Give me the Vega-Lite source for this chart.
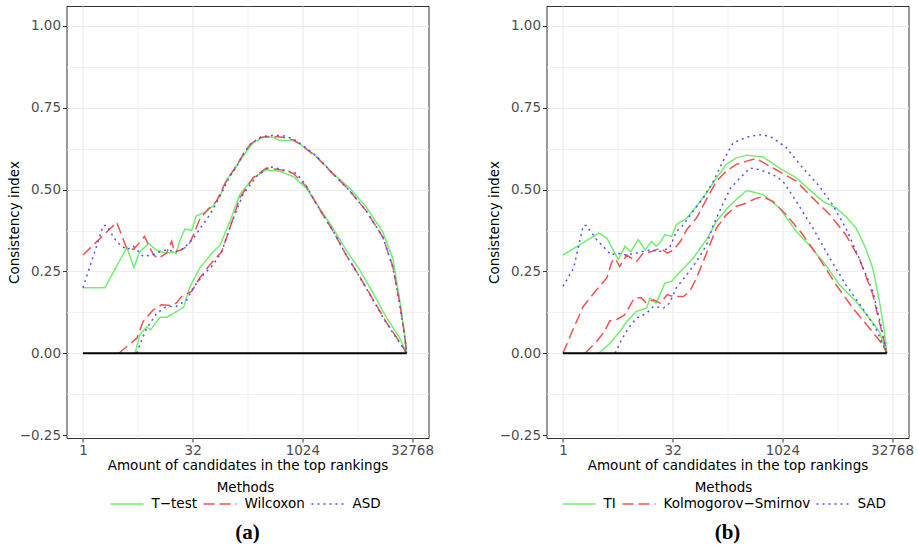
{
  "$schema": "https://vega.github.io/schema/vega-lite/v6.json",
  "background": "white",
  "padding": {"left": 6.5, "top": 5, "right": 3, "bottom": 3},
  "datasets": {
    "curves": [
      {"panel":"a","method":"T−test","curve":"u","x":1,"y":0.20},{"panel":"a","method":"T−test","curve":"u","x":2,"y":0.20},{"panel":"a","method":"T−test","curve":"u","x":4,"y":0.323},{"panel":"a","method":"T−test","curve":"u","x":5,"y":0.262},{"panel":"a","method":"T−test","curve":"u","x":6,"y":0.31},{"panel":"a","method":"T−test","curve":"u","x":8,"y":0.335},{"panel":"a","method":"T−test","curve":"u","x":10,"y":0.316},{"panel":"a","method":"T−test","curve":"u","x":12,"y":0.31},{"panel":"a","method":"T−test","curve":"u","x":14,"y":0.305},{"panel":"a","method":"T−test","curve":"u","x":17,"y":0.31},{"panel":"a","method":"T−test","curve":"u","x":19,"y":0.305},{"panel":"a","method":"T−test","curve":"u","x":21,"y":0.34},{"panel":"a","method":"T−test","curve":"u","x":25,"y":0.38},{"panel":"a","method":"T−test","curve":"u","x":31,"y":0.375},{"panel":"a","method":"T−test","curve":"u","x":36,"y":0.42},{"panel":"a","method":"T−test","curve":"u","x":47,"y":0.43},{"panel":"a","method":"T−test","curve":"u","x":61,"y":0.45},{"panel":"a","method":"T−test","curve":"u","x":76,"y":0.48},{"panel":"a","method":"T−test","curve":"u","x":93,"y":0.53},{"panel":"a","method":"T−test","curve":"u","x":115,"y":0.556},{"panel":"a","method":"T−test","curve":"u","x":142,"y":0.587},{"panel":"a","method":"T−test","curve":"u","x":176,"y":0.617},{"panel":"a","method":"T−test","curve":"u","x":216,"y":0.643},{"panel":"a","method":"T−test","curve":"u","x":297,"y":0.66},{"panel":"a","method":"T−test","curve":"u","x":406,"y":0.66},{"panel":"a","method":"T−test","curve":"u","x":500,"y":0.65},{"panel":"a","method":"T−test","curve":"u","x":764,"y":0.65},{"panel":"a","method":"T−test","curve":"u","x":943,"y":0.64},{"panel":"a","method":"T−test","curve":"u","x":1590,"y":0.602},{"panel":"a","method":"T−test","curve":"u","x":2690,"y":0.55},{"panel":"a","method":"T−test","curve":"u","x":4550,"y":0.505},{"panel":"a","method":"T−test","curve":"u","x":7700,"y":0.447},{"panel":"a","method":"T−test","curve":"u","x":13000,"y":0.37},{"panel":"a","method":"T−test","curve":"u","x":17850,"y":0.29},{"panel":"a","method":"T−test","curve":"u","x":21950,"y":0.17},{"panel":"a","method":"T−test","curve":"u","x":25700,"y":0.065},{"panel":"a","method":"T−test","curve":"u","x":27700,"y":0.0},
      {"panel":"a","method":"T−test","curve":"l","x":5.2,"y":0},{"panel":"a","method":"T−test","curve":"l","x":6,"y":0.056},{"panel":"a","method":"T−test","curve":"l","x":7.5,"y":0.08},{"panel":"a","method":"T−test","curve":"l","x":8.5,"y":0.072},{"panel":"a","method":"T−test","curve":"l","x":11.4,"y":0.11},{"panel":"a","method":"T−test","curve":"l","x":14,"y":0.11},{"panel":"a","method":"T−test","curve":"l","x":17,"y":0.12},{"panel":"a","method":"T−test","curve":"l","x":24,"y":0.14},{"panel":"a","method":"T−test","curve":"l","x":29,"y":0.2},{"panel":"a","method":"T−test","curve":"l","x":40,"y":0.26},{"panel":"a","method":"T−test","curve":"l","x":61,"y":0.31},{"panel":"a","method":"T−test","curve":"l","x":76,"y":0.33},{"panel":"a","method":"T−test","curve":"l","x":103,"y":0.40},{"panel":"a","method":"T−test","curve":"l","x":142,"y":0.485},{"panel":"a","method":"T−test","curve":"l","x":216,"y":0.536},{"panel":"a","method":"T−test","curve":"l","x":328,"y":0.56},{"panel":"a","method":"T−test","curve":"l","x":500,"y":0.556},{"panel":"a","method":"T−test","curve":"l","x":764,"y":0.54},{"panel":"a","method":"T−test","curve":"l","x":1156,"y":0.505},{"panel":"a","method":"T−test","curve":"l","x":1760,"y":0.444},{"panel":"a","method":"T−test","curve":"l","x":2680,"y":0.383},{"panel":"a","method":"T−test","curve":"l","x":4096,"y":0.315},{"panel":"a","method":"T−test","curve":"l","x":6250,"y":0.255},{"panel":"a","method":"T−test","curve":"l","x":9500,"y":0.185},{"panel":"a","method":"T−test","curve":"l","x":14500,"y":0.11},{"panel":"a","method":"T−test","curve":"l","x":22000,"y":0.048},{"panel":"a","method":"T−test","curve":"l","x":27700,"y":0.0},
      {"panel":"a","method":"Wilcoxon","curve":"u","x":1,"y":0.30},{"panel":"a","method":"Wilcoxon","curve":"u","x":2.9,"y":0.40},{"panel":"a","method":"Wilcoxon","curve":"u","x":4,"y":0.32},{"panel":"a","method":"Wilcoxon","curve":"u","x":5,"y":0.318},{"panel":"a","method":"Wilcoxon","curve":"u","x":7,"y":0.357},{"panel":"a","method":"Wilcoxon","curve":"u","x":9.3,"y":0.30},{"panel":"a","method":"Wilcoxon","curve":"u","x":10.8,"y":0.29},{"panel":"a","method":"Wilcoxon","curve":"u","x":14,"y":0.306},{"panel":"a","method":"Wilcoxon","curve":"u","x":16.5,"y":0.342},{"panel":"a","method":"Wilcoxon","curve":"u","x":18,"y":0.31},{"panel":"a","method":"Wilcoxon","curve":"u","x":22.6,"y":0.316},{"panel":"a","method":"Wilcoxon","curve":"u","x":28,"y":0.33},{"panel":"a","method":"Wilcoxon","curve":"u","x":32.6,"y":0.36},{"panel":"a","method":"Wilcoxon","curve":"u","x":40,"y":0.41},{"panel":"a","method":"Wilcoxon","curve":"u","x":52,"y":0.44},{"panel":"a","method":"Wilcoxon","curve":"u","x":68,"y":0.465},{"panel":"a","method":"Wilcoxon","curve":"u","x":85,"y":0.51},{"panel":"a","method":"Wilcoxon","curve":"u","x":105,"y":0.545},{"panel":"a","method":"Wilcoxon","curve":"u","x":130,"y":0.575},{"panel":"a","method":"Wilcoxon","curve":"u","x":160,"y":0.61},{"panel":"a","method":"Wilcoxon","curve":"u","x":200,"y":0.64},{"panel":"a","method":"Wilcoxon","curve":"u","x":280,"y":0.66},{"panel":"a","method":"Wilcoxon","curve":"u","x":400,"y":0.663},{"panel":"a","method":"Wilcoxon","curve":"u","x":550,"y":0.66},{"panel":"a","method":"Wilcoxon","curve":"u","x":764,"y":0.652},{"panel":"a","method":"Wilcoxon","curve":"u","x":943,"y":0.64},{"panel":"a","method":"Wilcoxon","curve":"u","x":1590,"y":0.60},{"panel":"a","method":"Wilcoxon","curve":"u","x":2690,"y":0.548},{"panel":"a","method":"Wilcoxon","curve":"u","x":4550,"y":0.497},{"panel":"a","method":"Wilcoxon","curve":"u","x":7700,"y":0.435},{"panel":"a","method":"Wilcoxon","curve":"u","x":13000,"y":0.355},{"panel":"a","method":"Wilcoxon","curve":"u","x":17850,"y":0.265},{"panel":"a","method":"Wilcoxon","curve":"u","x":21950,"y":0.16},{"panel":"a","method":"Wilcoxon","curve":"u","x":25700,"y":0.06},{"panel":"a","method":"Wilcoxon","curve":"u","x":27700,"y":0.0},
      {"panel":"a","method":"Wilcoxon","curve":"l","x":3.1,"y":0},{"panel":"a","method":"Wilcoxon","curve":"l","x":5.5,"y":0.046},{"panel":"a","method":"Wilcoxon","curve":"l","x":6.7,"y":0.097},{"panel":"a","method":"Wilcoxon","curve":"l","x":9,"y":0.13},{"panel":"a","method":"Wilcoxon","curve":"l","x":12,"y":0.148},{"panel":"a","method":"Wilcoxon","curve":"l","x":15.6,"y":0.146},{"panel":"a","method":"Wilcoxon","curve":"l","x":19,"y":0.153},{"panel":"a","method":"Wilcoxon","curve":"l","x":22.6,"y":0.173},{"panel":"a","method":"Wilcoxon","curve":"l","x":31,"y":0.189},{"panel":"a","method":"Wilcoxon","curve":"l","x":40,"y":0.23},{"panel":"a","method":"Wilcoxon","curve":"l","x":55,"y":0.27},{"panel":"a","method":"Wilcoxon","curve":"l","x":80,"y":0.31},{"panel":"a","method":"Wilcoxon","curve":"l","x":103,"y":0.38},{"panel":"a","method":"Wilcoxon","curve":"l","x":142,"y":0.475},{"panel":"a","method":"Wilcoxon","curve":"l","x":216,"y":0.536},{"panel":"a","method":"Wilcoxon","curve":"l","x":328,"y":0.566},{"panel":"a","method":"Wilcoxon","curve":"l","x":500,"y":0.561},{"panel":"a","method":"Wilcoxon","curve":"l","x":764,"y":0.55},{"panel":"a","method":"Wilcoxon","curve":"l","x":1156,"y":0.51},{"panel":"a","method":"Wilcoxon","curve":"l","x":1760,"y":0.44},{"panel":"a","method":"Wilcoxon","curve":"l","x":2680,"y":0.375},{"panel":"a","method":"Wilcoxon","curve":"l","x":4096,"y":0.3},{"panel":"a","method":"Wilcoxon","curve":"l","x":6250,"y":0.235},{"panel":"a","method":"Wilcoxon","curve":"l","x":9500,"y":0.165},{"panel":"a","method":"Wilcoxon","curve":"l","x":14500,"y":0.095},{"panel":"a","method":"Wilcoxon","curve":"l","x":22000,"y":0.035},{"panel":"a","method":"Wilcoxon","curve":"l","x":27700,"y":0.0},
      {"panel":"a","method":"ASD","curve":"u","x":1,"y":0.20},{"panel":"a","method":"ASD","curve":"u","x":1.9,"y":0.39},{"panel":"a","method":"ASD","curve":"u","x":2.1,"y":0.39},{"panel":"a","method":"ASD","curve":"u","x":2.9,"y":0.34},{"panel":"a","method":"ASD","curve":"u","x":4,"y":0.316},{"panel":"a","method":"ASD","curve":"u","x":4.9,"y":0.327},{"panel":"a","method":"ASD","curve":"u","x":6.7,"y":0.296},{"panel":"a","method":"ASD","curve":"u","x":8.8,"y":0.30},{"panel":"a","method":"ASD","curve":"u","x":11.4,"y":0.31},{"panel":"a","method":"ASD","curve":"u","x":14,"y":0.316},{"panel":"a","method":"ASD","curve":"u","x":19,"y":0.31},{"panel":"a","method":"ASD","curve":"u","x":24,"y":0.32},{"panel":"a","method":"ASD","curve":"u","x":32.6,"y":0.35},{"panel":"a","method":"ASD","curve":"u","x":40,"y":0.38},{"panel":"a","method":"ASD","curve":"u","x":50,"y":0.41},{"panel":"a","method":"ASD","curve":"u","x":61,"y":0.44},{"panel":"a","method":"ASD","curve":"u","x":80,"y":0.49},{"panel":"a","method":"ASD","curve":"u","x":100,"y":0.535},{"panel":"a","method":"ASD","curve":"u","x":128,"y":0.57},{"panel":"a","method":"ASD","curve":"u","x":160,"y":0.61},{"panel":"a","method":"ASD","curve":"u","x":200,"y":0.64},{"panel":"a","method":"ASD","curve":"u","x":280,"y":0.662},{"panel":"a","method":"ASD","curve":"u","x":400,"y":0.665},{"panel":"a","method":"ASD","curve":"u","x":550,"y":0.665},{"panel":"a","method":"ASD","curve":"u","x":764,"y":0.655},{"panel":"a","method":"ASD","curve":"u","x":943,"y":0.642},{"panel":"a","method":"ASD","curve":"u","x":1590,"y":0.603},{"panel":"a","method":"ASD","curve":"u","x":2690,"y":0.548},{"panel":"a","method":"ASD","curve":"u","x":4550,"y":0.497},{"panel":"a","method":"ASD","curve":"u","x":7700,"y":0.435},{"panel":"a","method":"ASD","curve":"u","x":13000,"y":0.355},{"panel":"a","method":"ASD","curve":"u","x":17850,"y":0.262},{"panel":"a","method":"ASD","curve":"u","x":21950,"y":0.155},{"panel":"a","method":"ASD","curve":"u","x":25700,"y":0.058},{"panel":"a","method":"ASD","curve":"u","x":27700,"y":0.0},
      {"panel":"a","method":"ASD","curve":"l","x":5.5,"y":0},{"panel":"a","method":"ASD","curve":"l","x":6,"y":0.026},{"panel":"a","method":"ASD","curve":"l","x":7.5,"y":0.077},{"panel":"a","method":"ASD","curve":"l","x":10.3,"y":0.122},{"panel":"a","method":"ASD","curve":"l","x":14,"y":0.143},{"panel":"a","method":"ASD","curve":"l","x":19,"y":0.143},{"panel":"a","method":"ASD","curve":"l","x":26.5,"y":0.163},{"panel":"a","method":"ASD","curve":"l","x":32.6,"y":0.2},{"panel":"a","method":"ASD","curve":"l","x":45,"y":0.24},{"panel":"a","method":"ASD","curve":"l","x":61,"y":0.27},{"panel":"a","method":"ASD","curve":"l","x":80,"y":0.31},{"panel":"a","method":"ASD","curve":"l","x":110,"y":0.40},{"panel":"a","method":"ASD","curve":"l","x":157,"y":0.485},{"panel":"a","method":"ASD","curve":"l","x":240,"y":0.54},{"panel":"a","method":"ASD","curve":"l","x":365,"y":0.57},{"panel":"a","method":"ASD","curve":"l","x":550,"y":0.561},{"panel":"a","method":"ASD","curve":"l","x":850,"y":0.55},{"panel":"a","method":"ASD","curve":"l","x":1156,"y":0.512},{"panel":"a","method":"ASD","curve":"l","x":1760,"y":0.44},{"panel":"a","method":"ASD","curve":"l","x":2680,"y":0.375},{"panel":"a","method":"ASD","curve":"l","x":4096,"y":0.3},{"panel":"a","method":"ASD","curve":"l","x":6250,"y":0.233},{"panel":"a","method":"ASD","curve":"l","x":9500,"y":0.163},{"panel":"a","method":"ASD","curve":"l","x":14500,"y":0.093},{"panel":"a","method":"ASD","curve":"l","x":22000,"y":0.033},{"panel":"a","method":"ASD","curve":"l","x":27700,"y":0.0},

      {"panel":"b","method":"TI","curve":"u","x":1,"y":0.30},{"panel":"b","method":"TI","curve":"u","x":3.1,"y":0.367},{"panel":"b","method":"TI","curve":"u","x":4,"y":0.352},{"panel":"b","method":"TI","curve":"u","x":5.75,"y":0.286},{"panel":"b","method":"TI","curve":"u","x":7.1,"y":0.327},{"panel":"b","method":"TI","curve":"u","x":8.5,"y":0.31},{"panel":"b","method":"TI","curve":"u","x":10.8,"y":0.347},{"panel":"b","method":"TI","curve":"u","x":13.4,"y":0.316},{"panel":"b","method":"TI","curve":"u","x":16.5,"y":0.342},{"panel":"b","method":"TI","curve":"u","x":19,"y":0.327},{"panel":"b","method":"TI","curve":"u","x":21,"y":0.335},{"panel":"b","method":"TI","curve":"u","x":25,"y":0.362},{"panel":"b","method":"TI","curve":"u","x":31,"y":0.357},{"panel":"b","method":"TI","curve":"u","x":36,"y":0.393},{"panel":"b","method":"TI","curve":"u","x":50,"y":0.413},{"panel":"b","method":"TI","curve":"u","x":68,"y":0.449},{"panel":"b","method":"TI","curve":"u","x":93,"y":0.49},{"panel":"b","method":"TI","curve":"u","x":128,"y":0.536},{"panel":"b","method":"TI","curve":"u","x":174,"y":0.577},{"panel":"b","method":"TI","curve":"u","x":240,"y":0.597},{"panel":"b","method":"TI","curve":"u","x":330,"y":0.605},{"panel":"b","method":"TI","curve":"u","x":556,"y":0.6},{"panel":"b","method":"TI","curve":"u","x":935,"y":0.566},{"panel":"b","method":"TI","curve":"u","x":1590,"y":0.536},{"panel":"b","method":"TI","curve":"u","x":2400,"y":0.5},{"panel":"b","method":"TI","curve":"u","x":3700,"y":0.464},{"panel":"b","method":"TI","curve":"u","x":5600,"y":0.444},{"panel":"b","method":"TI","curve":"u","x":7600,"y":0.418},{"panel":"b","method":"TI","curve":"u","x":10500,"y":0.383},{"panel":"b","method":"TI","curve":"u","x":14300,"y":0.32},{"panel":"b","method":"TI","curve":"u","x":17800,"y":0.26},{"panel":"b","method":"TI","curve":"u","x":22000,"y":0.158},{"panel":"b","method":"TI","curve":"u","x":25800,"y":0.066},{"panel":"b","method":"TI","curve":"u","x":27700,"y":0.0},
      {"panel":"b","method":"TI","curve":"l","x":3.1,"y":0},{"panel":"b","method":"TI","curve":"l","x":4.4,"y":0.03},{"panel":"b","method":"TI","curve":"l","x":6.2,"y":0.07},{"panel":"b","method":"TI","curve":"l","x":7.5,"y":0.097},{"panel":"b","method":"TI","curve":"l","x":10.2,"y":0.128},{"panel":"b","method":"TI","curve":"l","x":14,"y":0.138},{"panel":"b","method":"TI","curve":"l","x":15.6,"y":0.168},{"panel":"b","method":"TI","curve":"l","x":19,"y":0.153},{"panel":"b","method":"TI","curve":"l","x":25,"y":0.214},{"panel":"b","method":"TI","curve":"l","x":31,"y":0.22},{"panel":"b","method":"TI","curve":"l","x":41,"y":0.25},{"panel":"b","method":"TI","curve":"l","x":50,"y":0.27},{"panel":"b","method":"TI","curve":"l","x":61,"y":0.29},{"panel":"b","method":"TI","curve":"l","x":76,"y":0.32},{"panel":"b","method":"TI","curve":"l","x":93,"y":0.347},{"panel":"b","method":"TI","curve":"l","x":128,"y":0.403},{"panel":"b","method":"TI","curve":"l","x":174,"y":0.44},{"panel":"b","method":"TI","curve":"l","x":240,"y":0.47},{"panel":"b","method":"TI","curve":"l","x":330,"y":0.497},{"panel":"b","method":"TI","curve":"l","x":450,"y":0.49},{"panel":"b","method":"TI","curve":"l","x":556,"y":0.485},{"panel":"b","method":"TI","curve":"l","x":935,"y":0.444},{"panel":"b","method":"TI","curve":"l","x":1590,"y":0.372},{"panel":"b","method":"TI","curve":"l","x":2400,"y":0.33},{"panel":"b","method":"TI","curve":"l","x":3700,"y":0.28},{"panel":"b","method":"TI","curve":"l","x":6250,"y":0.209},{"panel":"b","method":"TI","curve":"l","x":10500,"y":0.158},{"panel":"b","method":"TI","curve":"l","x":16000,"y":0.107},{"panel":"b","method":"TI","curve":"l","x":22000,"y":0.066},{"panel":"b","method":"TI","curve":"l","x":27700,"y":0.0},
      {"panel":"b","method":"Kolmogorov−Smirnov","curve":"u","x":1,"y":0},{"panel":"b","method":"Kolmogorov−Smirnov","curve":"u","x":1.4,"y":0.077},{"panel":"b","method":"Kolmogorov−Smirnov","curve":"u","x":1.9,"y":0.143},{"panel":"b","method":"Kolmogorov−Smirnov","curve":"u","x":2.8,"y":0.19},{"panel":"b","method":"Kolmogorov−Smirnov","curve":"u","x":4,"y":0.23},{"panel":"b","method":"Kolmogorov−Smirnov","curve":"u","x":4.7,"y":0.28},{"panel":"b","method":"Kolmogorov−Smirnov","curve":"u","x":5.2,"y":0.29},{"panel":"b","method":"Kolmogorov−Smirnov","curve":"u","x":6,"y":0.265},{"panel":"b","method":"Kolmogorov−Smirnov","curve":"u","x":7.5,"y":0.30},{"panel":"b","method":"Kolmogorov−Smirnov","curve":"u","x":10.2,"y":0.28},{"panel":"b","method":"Kolmogorov−Smirnov","curve":"u","x":12.6,"y":0.306},{"panel":"b","method":"Kolmogorov−Smirnov","curve":"u","x":16.5,"y":0.311},{"panel":"b","method":"Kolmogorov−Smirnov","curve":"u","x":21.6,"y":0.321},{"panel":"b","method":"Kolmogorov−Smirnov","curve":"u","x":27,"y":0.306},{"panel":"b","method":"Kolmogorov−Smirnov","curve":"u","x":33,"y":0.316},{"panel":"b","method":"Kolmogorov−Smirnov","curve":"u","x":41,"y":0.342},{"panel":"b","method":"Kolmogorov−Smirnov","curve":"u","x":50,"y":0.378},{"panel":"b","method":"Kolmogorov−Smirnov","curve":"u","x":68,"y":0.413},{"panel":"b","method":"Kolmogorov−Smirnov","curve":"u","x":93,"y":0.47},{"panel":"b","method":"Kolmogorov−Smirnov","curve":"u","x":128,"y":0.526},{"panel":"b","method":"Kolmogorov−Smirnov","curve":"u","x":174,"y":0.556},{"panel":"b","method":"Kolmogorov−Smirnov","curve":"u","x":240,"y":0.577},{"panel":"b","method":"Kolmogorov−Smirnov","curve":"u","x":330,"y":0.587},{"panel":"b","method":"Kolmogorov−Smirnov","curve":"u","x":450,"y":0.595},{"panel":"b","method":"Kolmogorov−Smirnov","curve":"u","x":760,"y":0.566},{"panel":"b","method":"Kolmogorov−Smirnov","curve":"u","x":1590,"y":0.526},{"panel":"b","method":"Kolmogorov−Smirnov","curve":"u","x":2680,"y":0.474},{"panel":"b","method":"Kolmogorov−Smirnov","curve":"u","x":4600,"y":0.423},{"panel":"b","method":"Kolmogorov−Smirnov","curve":"u","x":7600,"y":0.362},{"panel":"b","method":"Kolmogorov−Smirnov","curve":"u","x":11600,"y":0.29},{"panel":"b","method":"Kolmogorov−Smirnov","curve":"u","x":17800,"y":0.18},{"panel":"b","method":"Kolmogorov−Smirnov","curve":"u","x":23000,"y":0.077},{"panel":"b","method":"Kolmogorov−Smirnov","curve":"u","x":27000,"y":0.015},{"panel":"b","method":"Kolmogorov−Smirnov","curve":"u","x":27700,"y":0.0},
      {"panel":"b","method":"Kolmogorov−Smirnov","curve":"l","x":2,"y":0},{"panel":"b","method":"Kolmogorov−Smirnov","curve":"l","x":2.9,"y":0.036},{"panel":"b","method":"Kolmogorov−Smirnov","curve":"l","x":3.7,"y":0.066},{"panel":"b","method":"Kolmogorov−Smirnov","curve":"l","x":4.4,"y":0.099},{"panel":"b","method":"Kolmogorov−Smirnov","curve":"l","x":5.2,"y":0.1},{"panel":"b","method":"Kolmogorov−Smirnov","curve":"l","x":7,"y":0.117},{"panel":"b","method":"Kolmogorov−Smirnov","curve":"l","x":9.5,"y":0.168},{"panel":"b","method":"Kolmogorov−Smirnov","curve":"l","x":11.8,"y":0.17},{"panel":"b","method":"Kolmogorov−Smirnov","curve":"l","x":14,"y":0.153},{"panel":"b","method":"Kolmogorov−Smirnov","curve":"l","x":17.4,"y":0.163},{"panel":"b","method":"Kolmogorov−Smirnov","curve":"l","x":21.6,"y":0.153},{"panel":"b","method":"Kolmogorov−Smirnov","curve":"l","x":27,"y":0.179},{"panel":"b","method":"Kolmogorov−Smirnov","curve":"l","x":33,"y":0.173},{"panel":"b","method":"Kolmogorov−Smirnov","curve":"l","x":45,"y":0.173},{"panel":"b","method":"Kolmogorov−Smirnov","curve":"l","x":55,"y":0.189},{"panel":"b","method":"Kolmogorov−Smirnov","curve":"l","x":68,"y":0.23},{"panel":"b","method":"Kolmogorov−Smirnov","curve":"l","x":84,"y":0.28},{"panel":"b","method":"Kolmogorov−Smirnov","curve":"l","x":103,"y":0.33},{"panel":"b","method":"Kolmogorov−Smirnov","curve":"l","x":128,"y":0.383},{"panel":"b","method":"Kolmogorov−Smirnov","curve":"l","x":174,"y":0.423},{"panel":"b","method":"Kolmogorov−Smirnov","curve":"l","x":240,"y":0.449},{"panel":"b","method":"Kolmogorov−Smirnov","curve":"l","x":330,"y":0.459},{"panel":"b","method":"Kolmogorov−Smirnov","curve":"l","x":450,"y":0.474},{"panel":"b","method":"Kolmogorov−Smirnov","curve":"l","x":556,"y":0.478},{"panel":"b","method":"Kolmogorov−Smirnov","curve":"l","x":760,"y":0.464},{"panel":"b","method":"Kolmogorov−Smirnov","curve":"l","x":1160,"y":0.423},{"panel":"b","method":"Kolmogorov−Smirnov","curve":"l","x":1960,"y":0.362},{"panel":"b","method":"Kolmogorov−Smirnov","curve":"l","x":3300,"y":0.29},{"panel":"b","method":"Kolmogorov−Smirnov","curve":"l","x":5600,"y":0.209},{"panel":"b","method":"Kolmogorov−Smirnov","curve":"l","x":9500,"y":0.138},{"panel":"b","method":"Kolmogorov−Smirnov","curve":"l","x":16000,"y":0.077},{"panel":"b","method":"Kolmogorov−Smirnov","curve":"l","x":24500,"y":0.026},{"panel":"b","method":"Kolmogorov−Smirnov","curve":"l","x":27700,"y":0.0},
      {"panel":"b","method":"SAD","curve":"u","x":1,"y":0.204},{"panel":"b","method":"SAD","curve":"u","x":1.4,"y":0.26},{"panel":"b","method":"SAD","curve":"u","x":1.9,"y":0.39},{"panel":"b","method":"SAD","curve":"u","x":2.1,"y":0.39},{"panel":"b","method":"SAD","curve":"u","x":2.9,"y":0.347},{"panel":"b","method":"SAD","curve":"u","x":4.6,"y":0.30},{"panel":"b","method":"SAD","curve":"u","x":5.4,"y":0.306},{"panel":"b","method":"SAD","curve":"u","x":7.5,"y":0.30},{"panel":"b","method":"SAD","curve":"u","x":10.2,"y":0.306},{"panel":"b","method":"SAD","curve":"u","x":15.6,"y":0.316},{"panel":"b","method":"SAD","curve":"u","x":21.6,"y":0.311},{"panel":"b","method":"SAD","curve":"u","x":29,"y":0.321},{"panel":"b","method":"SAD","curve":"u","x":36,"y":0.372},{"panel":"b","method":"SAD","curve":"u","x":45,"y":0.393},{"panel":"b","method":"SAD","curve":"u","x":61,"y":0.434},{"panel":"b","method":"SAD","curve":"u","x":84,"y":0.474},{"panel":"b","method":"SAD","curve":"u","x":116,"y":0.526},{"panel":"b","method":"SAD","curve":"u","x":157,"y":0.587},{"panel":"b","method":"SAD","curve":"u","x":216,"y":0.643},{"panel":"b","method":"SAD","curve":"u","x":330,"y":0.66},{"panel":"b","method":"SAD","curve":"u","x":450,"y":0.666},{"panel":"b","method":"SAD","curve":"u","x":556,"y":0.668},{"panel":"b","method":"SAD","curve":"u","x":760,"y":0.658},{"panel":"b","method":"SAD","curve":"u","x":1160,"y":0.628},{"panel":"b","method":"SAD","curve":"u","x":1960,"y":0.566},{"panel":"b","method":"SAD","curve":"u","x":3300,"y":0.51},{"panel":"b","method":"SAD","curve":"u","x":5000,"y":0.454},{"panel":"b","method":"SAD","curve":"u","x":7600,"y":0.383},{"panel":"b","method":"SAD","curve":"u","x":11600,"y":0.29},{"panel":"b","method":"SAD","curve":"u","x":17800,"y":0.19},{"panel":"b","method":"SAD","curve":"u","x":23000,"y":0.087},{"panel":"b","method":"SAD","curve":"u","x":27700,"y":0.0},
      {"panel":"b","method":"SAD","curve":"l","x":5.2,"y":0},{"panel":"b","method":"SAD","curve":"l","x":6.2,"y":0.036},{"panel":"b","method":"SAD","curve":"l","x":7.9,"y":0.077},{"panel":"b","method":"SAD","curve":"l","x":10.2,"y":0.107},{"panel":"b","method":"SAD","curve":"l","x":14,"y":0.122},{"panel":"b","method":"SAD","curve":"l","x":17.4,"y":0.143},{"panel":"b","method":"SAD","curve":"l","x":24,"y":0.138},{"panel":"b","method":"SAD","curve":"l","x":29,"y":0.153},{"panel":"b","method":"SAD","curve":"l","x":36,"y":0.2},{"panel":"b","method":"SAD","curve":"l","x":50,"y":0.24},{"panel":"b","method":"SAD","curve":"l","x":68,"y":0.28},{"panel":"b","method":"SAD","curve":"l","x":93,"y":0.33},{"panel":"b","method":"SAD","curve":"l","x":116,"y":0.393},{"panel":"b","method":"SAD","curve":"l","x":155,"y":0.454},{"panel":"b","method":"SAD","curve":"l","x":200,"y":0.505},{"panel":"b","method":"SAD","curve":"l","x":270,"y":0.536},{"panel":"b","method":"SAD","curve":"l","x":370,"y":0.566},{"panel":"b","method":"SAD","curve":"l","x":500,"y":0.561},{"panel":"b","method":"SAD","curve":"l","x":760,"y":0.546},{"panel":"b","method":"SAD","curve":"l","x":1040,"y":0.526},{"panel":"b","method":"SAD","curve":"l","x":1590,"y":0.464},{"panel":"b","method":"SAD","curve":"l","x":2680,"y":0.383},{"panel":"b","method":"SAD","curve":"l","x":4600,"y":0.29},{"panel":"b","method":"SAD","curve":"l","x":7600,"y":0.209},{"panel":"b","method":"SAD","curve":"l","x":12900,"y":0.138},{"panel":"b","method":"SAD","curve":"l","x":19500,"y":0.077},{"panel":"b","method":"SAD","curve":"l","x":27700,"y":0.0}
    ],
    "baseline": [
      {"panel":"a","x":1,"y":0},{"panel":"a","x":27700,"y":0},
      {"panel":"b","x":1,"y":0},{"panel":"b","x":27700,"y":0}
    ]
  },
  "hconcat": [
    {
      "width": 362, "height": 432,
      "title": {"text": "(a)", "orient": "bottom", "font": "Liberation Serif", "fontSize": 21, "fontWeight": "bold", "color": "black", "offset": 11},
      "layer": [
        {
          "data": {"name": "curves"},
          "transform": [{"filter": "datum.panel == 'a'"}],
          "mark": {"type": "line", "strokeWidth": 1.5},
          "encoding": {
            "x": {"field": "x", "type": "quantitative", "scale": {"type": "log", "base": 2, "domain": [0.5946, 55109], "nice": false},
              "axis": {"title": "Amount of candidates in the top rankings", "values": [1, 5.656854, 32, 181.0193, 1024, 5792.619, 32768],
                "labelExpr": "indexof([1,32,1024,32768], datum.value) >= 0 ? format(datum.value, 'd') : ''",
                "tickOpacity": {"condition": {"test": "indexof([1,32,1024,32768], datum.value) >= 0", "value": 1}, "value": 0},
                "gridWidth": {"condition": {"test": "indexof([1,32,1024,32768], datum.value) >= 0", "value": 1.1}, "value": 0.7}}},
            "y": {"field": "y", "type": "quantitative", "scale": {"domain": [-0.259, 1.061], "nice": false, "zero": false},
              "axis": {"title": "Consistency index", "values": [-0.25, -0.125, 0, 0.125, 0.25, 0.375, 0.5, 0.625, 0.75, 0.875, 1],
                "labelExpr": "(datum.value * 4) % 1 == 0 ? format(datum.value, '.2f') : ''",
                "tickOpacity": {"condition": {"test": "(datum.value * 4) % 1 == 0", "value": 1}, "value": 0},
                "gridWidth": {"condition": {"test": "(datum.value * 4) % 1 == 0", "value": 1.1}, "value": 0.7}}},
            "color": {"field": "method", "type": "nominal", "scale": {"domain": ["T−test", "Wilcoxon", "ASD"], "range": ["#70F070", "#F85050", "#5050F8"]},
              "legend": {"title": "Methods", "orient": "none", "legendX": 43, "legendY": 475}},
            "strokeDash": {"field": "method", "type": "nominal", "scale": {"domain": ["T−test", "Wilcoxon", "ASD"], "range": [[1, 0], [11, 5], [2, 4]]},
              "legend": {"title": "Methods", "orient": "none", "legendX": 43, "legendY": 475}},
            "detail": {"field": "curve"}
          }
        },
        {
          "data": {"name": "baseline"},
          "transform": [{"filter": "datum.panel == 'a'"}],
          "mark": {"type": "line", "color": "black", "strokeWidth": 2.2},
          "encoding": {
            "x": {"field": "x", "type": "quantitative"},
            "y": {"field": "y", "type": "quantitative"}
          }
        }
      ]
    },
    {
      "width": 362, "height": 432,
      "title": {"text": "(b)", "orient": "bottom", "font": "Liberation Serif", "fontSize": 21, "fontWeight": "bold", "color": "black", "offset": 11},
      "layer": [
        {
          "data": {"name": "curves"},
          "transform": [{"filter": "datum.panel == 'b'"}],
          "mark": {"type": "line", "strokeWidth": 1.5},
          "encoding": {
            "x": {"field": "x", "type": "quantitative", "scale": {"type": "log", "base": 2, "domain": [0.5946, 55109], "nice": false},
              "axis": {"title": "Amount of candidates in the top rankings", "values": [1, 5.656854, 32, 181.0193, 1024, 5792.619, 32768],
                "labelExpr": "indexof([1,32,1024,32768], datum.value) >= 0 ? format(datum.value, 'd') : ''",
                "tickOpacity": {"condition": {"test": "indexof([1,32,1024,32768], datum.value) >= 0", "value": 1}, "value": 0},
                "gridWidth": {"condition": {"test": "indexof([1,32,1024,32768], datum.value) >= 0", "value": 1.1}, "value": 0.7}}},
            "y": {"field": "y", "type": "quantitative", "scale": {"domain": [-0.259, 1.061], "nice": false, "zero": false},
              "axis": {"title": "Consistency index", "values": [-0.25, -0.125, 0, 0.125, 0.25, 0.375, 0.5, 0.625, 0.75, 0.875, 1],
                "labelExpr": "(datum.value * 4) % 1 == 0 ? format(datum.value, '.2f') : ''",
                "tickOpacity": {"condition": {"test": "(datum.value * 4) % 1 == 0", "value": 1}, "value": 0},
                "gridWidth": {"condition": {"test": "(datum.value * 4) % 1 == 0", "value": 1.1}, "value": 0.7}}},
            "color": {"field": "method", "type": "nominal", "scale": {"domain": ["TI", "Kolmogorov−Smirnov", "SAD"], "range": ["#70F070", "#F85050", "#5050F8"]},
              "legend": {"title": "Methods", "orient": "none", "legendX": 15, "legendY": 475}},
            "strokeDash": {"field": "method", "type": "nominal", "scale": {"domain": ["TI", "Kolmogorov−Smirnov", "SAD"], "range": [[1, 0], [11, 5], [2, 4]]},
              "legend": {"title": "Methods", "orient": "none", "legendX": 15, "legendY": 475}},
            "detail": {"field": "curve"}
          }
        },
        {
          "data": {"name": "baseline"},
          "transform": [{"filter": "datum.panel == 'b'"}],
          "mark": {"type": "line", "color": "black", "strokeWidth": 2.2},
          "encoding": {
            "x": {"field": "x", "type": "quantitative"},
            "y": {"field": "y", "type": "quantitative"}
          }
        }
      ]
    }
  ],
  "spacing": 52,
  "resolve": {"scale": {"color": "independent", "strokeDash": "independent", "x": "independent", "y": "independent"}, "legend": {"color": "independent", "strokeDash": "independent"}},
  "config": {
    "font": "DejaVu Sans",
    "view": {"stroke": "#333333", "strokeWidth": 1},
    "axis": {
      "domain": false,
      "grid": true,
      "gridColor": "#EBEBEB",
      "tickColor": "#333333",
      "tickSize": 4,
      "tickWidth": 1,
      "labelColor": "#4D4D4D",
      "labelFont": "DejaVu Sans",
      "labelFontSize": 13.5,
      "labelPadding": 2,
      "labelFlush": false,
      "labelOverlap": false,
      "labelBound": false,
      "titleFont": "DejaVu Sans",
      "titleFontSize": 13.5,
      "titleFontWeight": "normal",
      "titleColor": "black"
    },
    "axisX": {"titlePadding": 1.5, "labelPadding": 1},
    "axisY": {"titlePadding": -2},
    "legend": {
      "direction": "horizontal",
      "titleAnchor": "middle",
      "titleOrient": "top",
      "symbolType": "stroke",
      "symbolSize": 1089,
      "symbolStrokeWidth": 1.5,
      "labelFont": "DejaVu Sans",
      "labelFontSize": 13.5,
      "labelColor": "black",
      "labelOffset": 7,
      "columnPadding": 3,
      "padding": 0,
      "titleFont": "DejaVu Sans",
      "titleFontSize": 13.5,
      "titleFontWeight": "normal",
      "titleColor": "black",
      "titlePadding": -8
    }
  }
}
